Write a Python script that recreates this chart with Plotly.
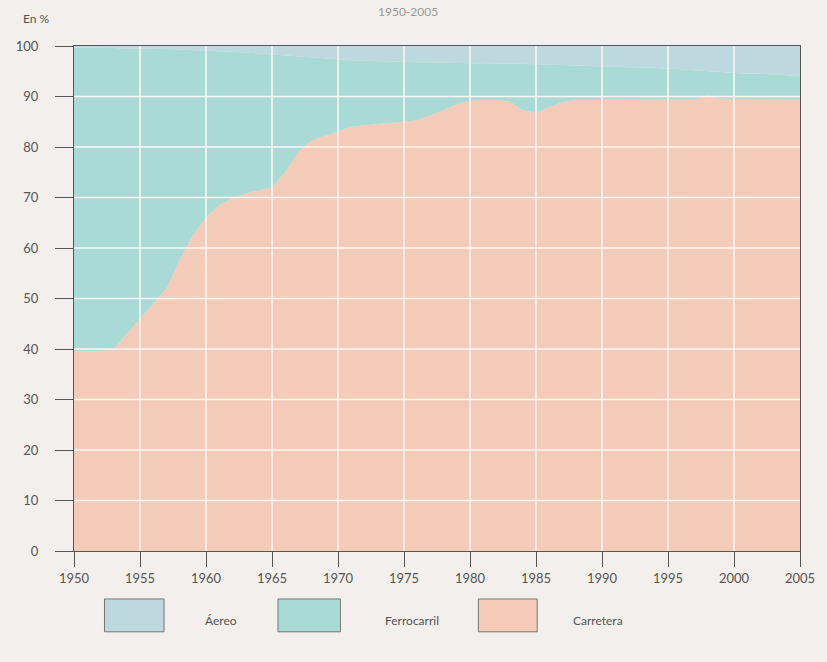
import plotly.graph_objects as go

years = list(range(1950, 2006))

# road share (%), bottom layer
carretera = [39.6, 39.5, 39.5, 40.0, 43.0, 46.0, 49.0, 52.0, 57.5, 62.5,
             66.0, 68.5, 69.8, 70.8, 71.4, 72.0, 75.0, 79.0, 81.3, 82.2,
             83.2, 84.0, 84.3, 84.6, 84.8, 85.0, 85.3, 86.3, 87.3, 88.5,
             89.2, 89.3, 89.3, 89.0, 87.3, 86.8, 87.8, 88.9, 89.3, 89.3,
             89.3, 89.3, 89.3, 89.3, 89.3, 89.3, 89.3, 89.4, 90.2, 89.6,
             89.5, 89.5, 89.5, 89.5, 89.5, 89.4]

ferrocarril = [60.1, 60.2, 60.1, 59.6, 56.5, 53.5, 50.4, 47.4, 41.8, 36.7,
               33.1, 30.5, 29.1, 27.9, 27.1, 26.3, 23.1, 18.9, 16.4, 15.3,
               14.1, 13.2, 12.8, 12.4, 12.2, 11.9, 11.5, 10.5, 9.4, 8.2,
               7.4, 7.3, 7.3, 7.5, 9.2, 9.6, 8.5, 7.3, 6.8, 6.7,
               6.6, 6.6, 6.5, 6.5, 6.4, 6.3, 6.1, 5.8, 4.8, 5.2,
               5.1, 5.0, 5.0, 4.9, 4.7, 4.6]

aereo = [0.3, 0.3, 0.4, 0.4, 0.5, 0.5, 0.6, 0.6, 0.7, 0.8,
         0.9, 1.0, 1.1, 1.3, 1.5, 1.7, 1.9, 2.1, 2.3, 2.5,
         2.7, 2.8, 2.9, 3.0, 3.0, 3.1, 3.2, 3.2, 3.3, 3.3,
         3.4, 3.4, 3.4, 3.5, 3.5, 3.6, 3.7, 3.8, 3.9, 4.0,
         4.1, 4.1, 4.2, 4.2, 4.3, 4.4, 4.6, 4.8, 5.0, 5.2,
         5.4, 5.5, 5.5, 5.6, 5.8, 6.0]

x_ticks = list(range(1950, 2006, 5))
y_ticks = list(range(0, 101, 10))

series = ['Áereo', 'Ferrocarril', 'Carretera']
colors = {'Áereo': '#bdd9df', 'Ferrocarril': '#aadad6', 'Carretera': '#f3cbb8'}

font = 'Lato, Open Sans, sans-serif'
bg = '#f2efec'

fig = go.Figure()

# stacked areas, bottom to top
for name, vals in [('Carretera', carretera), ('Ferrocarril', ferrocarril),
                   ('Áereo', aereo)]:
    fig.add_trace(go.Scatter(x=years, y=vals, name=name, mode='lines',
        stackgroup='one', line=dict(width=0), fillcolor=colors[name],
        showlegend=False, hoverinfo='x+y+name'))

# white grid drawn above the fills
grid = '#fbf7f3'
for xv in x_ticks[1:-1]:
    fig.add_shape(type='line', xref='x', yref='y', x0=xv, x1=xv, y0=0, y1=100,
                  line=dict(color=grid, width=1.5), layer='above')
for yv in y_ticks[1:-1]:
    fig.add_shape(type='line', xref='x', yref='y', x0=1950, x1=2005, y0=yv, y1=yv,
                  line=dict(color=grid, width=1.5), layer='above')

# hand-made legend with big swatches
box_x = [(0.042, 0.124), (0.281, 0.367), (0.557, 0.638)]
text_x = [0.177, 0.425, 0.685]
for name, (x0, x1), tx in zip(series, box_x, text_x):
    fig.add_shape(type='rect', xref='paper', yref='paper', x0=x0, x1=x1,
                  y0=-0.160, y1=-0.095, fillcolor=colors[name],
                  line=dict(color='#777', width=1))
    fig.add_annotation(text=name, xref='paper', yref='paper', x=tx, y=-0.137,
                       xanchor='left', yanchor='middle', showarrow=False,
                       font=dict(family=font, size=12, color='#555'))

fig.add_annotation(text='En %', xref='paper', yref='paper', x=-0.073, y=1.055,
                   xanchor='left', yanchor='middle', showarrow=False,
                   font=dict(family=font, size=12, color='#555'))

fig.add_annotation(text='1950-2005', xref='paper', yref='paper', x=0.46, y=1.087,
                   xanchor='center', yanchor='top', showarrow=False,
                   font=dict(family=font, size=12, color='#999'))

fig.update_layout(
    width=827, height=662,
    margin=dict(l=74, r=12, t=46, b=111),
    paper_bgcolor=bg, plot_bgcolor=bg,
    font=dict(family=font, size=13, color='#555'),
    xaxis=dict(range=[1950, 2005], tickvals=x_ticks, showgrid=False,
               zeroline=False, showline=True, mirror=True, linecolor='#555',
               linewidth=1.2, ticks='outside', ticklen=15, tickcolor='#555',
               tickwidth=1.2, ticklabeloverflow='allow'),
    yaxis=dict(range=[0, 100], tickvals=y_ticks, showgrid=False,
               zeroline=False, showline=True, mirror=True, linecolor='#555',
               linewidth=1.2, ticks='outside', ticklen=18, tickcolor='#555',
               tickwidth=1.2, ticklabelstandoff=14),
)

# drop the page's default body margin so the figure fills the window
fig.write_html('out.html', config={'displayModeBar': False}, post_script=(
    "document.body.style.margin='0';"
    "document.body.style.background='#f2efec';"))
